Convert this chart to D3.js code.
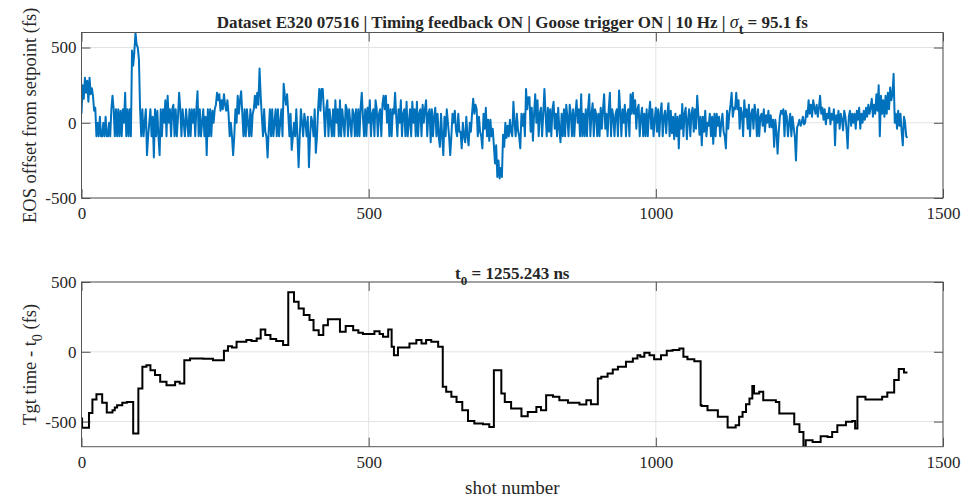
<!DOCTYPE html>
<html>
<head>
<meta charset="utf-8">
<script src="https://cdn.jsdelivr.net/npm/d3@7"></script>
<style>
  html, body { margin: 0; padding: 0; background: #fff; }
  svg { display: block; }
  text { font-family: "Liberation Serif", "Times New Roman", serif; fill: #262626; }
</style>
</head>
<body>
<svg id="chart" width="973" height="498"></svg>
<script>
// ---------------- DATA ----------------
// Top panel: EOS offset from setpoint (fs), one value every 2 shots, starting at shot 0
const eosStep = 2;
const eosOffset = [
  60, 250, 160, 300, 200, 280, 140, 300, 190, 230,
  180, 80, 100, -90, 0, -90, 40, -90, -90, 0,
  -90, 40, -90, -90, 0, -90, 90, 180, 90, -90,
  90, -90, 90, -90, 80, -90, 90, 0, 200, -90,
  90, -90, 90, -90, 480, 380, 470, 600, 520, 500,
  420, 90, -90, 90, -90, 0, 90, -215, -90, 0,
  90, -90, 40, -230, 90, -90, 80, -90, -215, 90,
  -90, 90, 0, 150, -90, 180, 0, 90, -90, 90,
  120, -90, 90, -90, 40, 200, 90, -90, 90, 0,
  -90, 90, 0, -90, 90, -90, 90, 0, 90, -90,
  90, 210, -90, 90, -90, 0, 90, -90, 40, -215,
  90, -90, 90, -90, 80, 0, 90, 120, 200, 150,
  190, 80, 150, 90, 190, 120, 80, 150, 60, -90,
  0, -90, -215, -90, 90, 0, 180, 60, 150, 210,
  60, -90, 90, -90, 90, 0, -90, 90, -90, 60,
  90, 180, 100, 200, 120, 360, 180, 40, -90, 90,
  -60, -90, -230, -50, 90, -90, 90, -90, 0, 90,
  -90, 90, -90, 0, 90, -90, 260, 180, 120, 190,
  60, -90, 60, -180, -90, 0, -90, 90, -90, -295,
  -90, 90, 0, -90, 60, 0, -90, 40, -295, -90,
  40, 0, -90, 90, -200, -90, 90, 225, 80, 225,
  225, 80, -90, 90, 150, -90, 90, 0, -90, 90,
  -90, 150, 0, 90, -90, 150, -90, 90, 0, -90,
  120, 90, -90, 90, 0, -90, 90, 60, -90, 90,
  -90, 90, -90, 100, 200, 40, -90, 90, -90, 100,
  0, 150, -90, 60, 90, -90, 150, 90, -90, 60,
  90, -90, 120, 180, 90, 180, 0, 120, -90, 90,
  -90, 90, 60, 200, 40, -90, 90, 0, 150, -90,
  60, 90, -90, 140, -90, 0, 90, -90, 140, 0,
  90, -90, 140, -90, 60, 90, -90, 120, 0, 90,
  150, -90, 60, 90, -130, 90, -90, 40, 100, -90,
  60, -90, -160, 60, -90, -215, 40, -90, 90, 0,
  -90, -215, -90, 60, 0, 80, -50, -90, 60, -60,
  -60, -170, 0, -90, -130, 40, -90, -150, 0, -60,
  60, 160, 60, 120, 90, -90, 40, -60, -90, -170,
  60, -40, 100, -90, 20, -120, 20, -90, -40, -150,
  -270, -150, -360, -250, -370, -300, -360, -80, -160, 0,
  -100, -20, -90, 20, -60, -90, 140, 0, -90, 60,
  -50, -90, -170, 60, -20, 60, -90, 225, 90, 170,
  170, -60, 100, -120, 60, 190, 0, 150, -90, 60,
  100, -90, 60, 225, 60, -90, 100, -60, 90, -90,
  90, 140, -40, 60, -90, 100, -40, -130, 60, -90,
  90, -90, 120, 40, -90, 120, 60, -90, 90, -90,
  60, 150, 0, 90, -90, 190, -90, 60, -90, 90,
  -90, 90, 190, -90, 60, 130, -90, 90, 60, -90,
  60, -90, 100, -40, 90, 190, -40, 60, -90, 90,
  200, -90, 90, 40, -90, 60, 90, -90, 215, 80,
  -90, 90, 0, 120, -90, 60, 90, -90, 190, 60,
  200, 60, 150, -40, 90, 120, -90, 40, 100, -90,
  60, -90, 90, -90, 60, 140, -40, 90, -90, 20,
  100, -60, 90, -90, 60, 130, -90, 40, 80, -70,
  60, 130, -90, 80, -70, 40, -110, 60, -90, 40,
  -170, 50, -40, 125, -90, 60, 100, -110, 20, 90,
  -90, 60, 100, -60, 90, -40, 180, 60, -80, 40,
  -150, 40, -60, 80, -90, 0, -20, 60, -90, 40,
  -140, 60, -90, 60, -20, 40, -90, 0, 60, -60,
  -90, -170, 80, -40, 60, 120, 200, 40, 100, 90,
  200, 90, 150, -40, 100, 60, -90, 150, 40, 90,
  -40, 120, -90, 60, 90, -40, 120, 60, -90, 90,
  -90, 40, 60, -20, 90, -60, 50, 0, 80, -30,
  50, -30, 20, -160, 20, -60, -205, -60, 40, 80,
  60, 90, -90, 80, 40, -90, 0, 60, -90, 40,
  -30, -90, -250, -30, -10, 20, -20, 0, 40, -10,
  0, 80, 40, 150, 60, 120, 40, 150, 100, 60,
  120, 40, 100, 180, 60, 100, 20, 90, -10, 60,
  30, 100, -10, 60, 20, 90, -150, 50, 0, 80,
  -40, 60, 20, -50, 80, 40, -40, -170, 40, 80,
  -20, 60, 0, 60, -40, 80, 20, 100, -40, 60,
  0, 80, 20, 100, 40, 120, 60, 100, 160, 40,
  120, 60, 190, 80, 250, -90, 180, 60, 150, 40,
  180, 60, 200, 90, 235, 150, 190, 325, 0, 60,
  -40, 80, -20, 60, -60, -150, 40, 0, -90, -100
];

// Bottom panel: target time - t0 (fs), stepwise; shot where each level starts
const tgtShot = [
  0, 1, 13, 19, 26, 36, 44, 54, 58, 62, 71, 79, 90, 99, 106, 113, 120, 128, 137, 148,
  163, 171, 179, 189, 212, 229, 248, 255, 262, 270, 287, 296, 305, 312, 320, 329, 339, 351, 360, 370,
  378, 387, 397, 404, 413, 421, 429, 450, 460, 473, 482, 490, 510, 519, 525, 534, 540, 544, 551, 571,
  583, 592, 600, 609, 621, 629, 635, 644, 653, 663, 673, 684, 699, 710, 718, 731, 737, 748, 766, 777,
  792, 800, 809, 821, 832, 847, 867, 879, 887, 899, 905, 916, 925, 934, 948, 960, 968, 973, 980, 989,
  997, 1009, 1019, 1029, 1041, 1048, 1055, 1067, 1078, 1080, 1090, 1108, 1125, 1139, 1145, 1151, 1157, 1163, 1168, 1171,
  1180, 1187, 1209, 1215, 1241, 1250, 1257, 1261, 1273, 1287, 1299, 1307, 1316, 1331, 1342, 1347, 1351, 1365, 1394, 1403,
  1415, 1423, 1432, 1438
];
const tgtTime = [
  -478, -545, -438, -342, -304, -366, -435, -418, -400, -383, -366, -360, -586, -263, -108, -96, -132, -167, -215, -239,
  -215, -227, -60, -48, -50, -60, 7, 40, 31, 72, 84, 77, 96, 160, 120, 91, 77, 48, 426, 359,
  311, 263, 227, 155, 120, 191, 234, 144, 184, 155, 136, 127, 148, 127, 108, 160, 36, -24, 31, 60,
  84, 60, 84, 72, 36, -251, -287, -323, -359, -419, -495, -514, -519, -538, -132, -299, -359, -407, -462, -431,
  -395, -419, -311, -323, -347, -366, -378, -347, -376, -191, -179, -155, -127, -108, -72, -48, -24, -36, -7, -24,
  -53, -24, 7, 12, 24, -36, -53, -67, -383, -388, -419, -466, -543, -526, -466, -431, -376, -335, -246, -299,
  -287, -347, -359, -443, -519, -574, -682, -634, -646, -605, -610, -574, -526, -502, -495, -550, -323, -342, -323, -292,
  -203, -124, -148, -148
];

const xTicks = [0, 500, 1000, 1500];
const topYTicks = [-500, 0, 500];
const botYTicks = [-500, 0, 500];
const topTitle = "Dataset E320 07516 | Timing feedback ON | Goose trigger ON | 10 Hz | ";
const sigmaValue = " = 95.1 fs";
const t0Label = " = 1255.243 ns";

// ---------------- LAYOUT ----------------
const svg = d3.select("#chart");
svg.append("rect").attr("width", 973).attr("height", 498).attr("fill", "#fff");

const L = 81.5, R = 943;
const topBox = { top: 32.5, bottom: 198 };
const botBox = { top: 282, bottom: 446.7 };
const tickLen = 9;
const axisColor = "#262626";
const gridColor = "#e3e3e3";
const fmt = d => String(d);

const x = d3.scaleLinear().domain([0, 1500]).range([L, R]);
const yTop = d3.scaleLinear().domain([-500, 600]).range([topBox.bottom, topBox.top]);
const yBot = d3.scaleLinear().domain([-680, 500]).range([botBox.bottom, botBox.top]);

function panel(box, y, yTicks, id) {
  const g = svg.append("g");
  g.selectAll(".gx").data(xTicks).enter().append("line")
    .attr("x1", d => x(d)).attr("x2", d => x(d))
    .attr("y1", box.top).attr("y2", box.bottom)
    .attr("stroke", gridColor).attr("stroke-width", 1);
  g.selectAll(".gy").data(yTicks).enter().append("line")
    .attr("x1", L).attr("x2", R)
    .attr("y1", d => y(d)).attr("y2", d => y(d))
    .attr("stroke", gridColor).attr("stroke-width", 1);
  svg.append("clipPath").attr("id", id).append("rect")
    .attr("x", L).attr("y", box.top).attr("width", R - L).attr("height", box.bottom - box.top);
  return g;
}

function frame(box, y, yTicks) {
  const g = svg.append("g");
  const xb = g.append("g").attr("transform", `translate(0,${box.bottom})`)
    .call(d3.axisBottom(x).tickValues(xTicks).tickSize(-tickLen).tickPadding(9).tickFormat(fmt));
  const xt = g.append("g").attr("transform", `translate(0,${box.top})`)
    .call(d3.axisTop(x).tickValues(xTicks).tickSize(-tickLen).tickFormat(""));
  const yl = g.append("g").attr("transform", `translate(${L},0)`)
    .call(d3.axisLeft(y).tickValues(yTicks).tickSize(-tickLen).tickPadding(5).tickFormat(fmt));
  const yr = g.append("g").attr("transform", `translate(${R},0)`)
    .call(d3.axisRight(y).tickValues(yTicks).tickSize(-tickLen).tickFormat(""));
  [xb, xt, yl, yr].forEach(a => {
    a.select(".domain").remove();
    a.selectAll("line").attr("stroke", axisColor).attr("stroke-width", 0.8);
    a.selectAll("text").style("font-family", '"Liberation Serif", serif').style("font-size", "17px").attr("fill", axisColor);
  });
  g.append("rect").attr("x", L).attr("y", box.top).attr("width", R - L).attr("height", box.bottom - box.top)
    .attr("fill", "none").attr("stroke", "#555").attr("stroke-width", 1);
}

// ---------------- TOP PANEL ----------------
panel(topBox, yTop, topYTicks, "clipTop");
const eosPts = eosOffset.map((v, i) => [i * eosStep, v]);
svg.append("path").datum(eosPts)
  .attr("clip-path", "url(#clipTop)")
  .attr("fill", "none").attr("stroke", "#0072BD").attr("stroke-width", 2).attr("stroke-linejoin", "round")
  .attr("d", d3.line().x(d => x(d[0])).y(d => yTop(d[1])));
frame(topBox, yTop, topYTicks);

// ---------------- BOTTOM PANEL ----------------
panel(botBox, yBot, botYTicks, "clipBot");
const tgtPts = tgtShot.map((s, i) => [s, tgtTime[i]]);
svg.append("path").datum(tgtPts)
  .attr("clip-path", "url(#clipBot)")
  .attr("fill", "none").attr("stroke", "#000").attr("stroke-width", 2)
  .attr("d", d3.line().curve(d3.curveStepAfter).x(d => x(d[0])).y(d => yBot(d[1])));
frame(botBox, yBot, botYTicks);

// ---------------- TEXT ----------------
const cx = (L + R) / 2;
const t1 = svg.append("text").attr("x", cx).attr("y", 28).attr("text-anchor", "middle")
  .style("font-size", "17px").style("font-weight", "bold").attr("fill", "#000");
t1.append("tspan").text(topTitle);
t1.append("tspan").text("σ").style("font-style", "italic").style("font-weight", "normal").style("font-size", "18px");
t1.append("tspan").text("t").attr("dy", 6).style("font-size", "14px");
t1.append("tspan").text(sigmaValue).attr("dy", -6);

const t2 = svg.append("text").attr("x", cx).attr("y", 279).attr("text-anchor", "middle")
  .style("font-size", "17px").style("font-weight", "bold").attr("fill", "#000");
t2.append("tspan").text("t");
t2.append("tspan").text("0").attr("dy", 6).style("font-size", "13px");
t2.append("tspan").text(t0Label).attr("dy", -6);

svg.append("text").attr("transform", `translate(36,${(topBox.top + topBox.bottom) / 2}) rotate(-90)`)
  .attr("text-anchor", "middle").style("font-size", "18.5px").text("EOS offset from setpoint (fs)");

const yl2 = svg.append("text").attr("transform", `translate(36,${(botBox.top + botBox.bottom) / 2}) rotate(-90)`)
  .attr("text-anchor", "middle").style("font-size", "18.5px");
yl2.append("tspan").text("Tgt time - t");
yl2.append("tspan").text("0").attr("dy", 6).style("font-size", "14px");
yl2.append("tspan").text(" (fs)").attr("dy", -6);

svg.append("text").attr("x", cx).attr("y", 494).attr("text-anchor", "middle")
  .style("font-size", "19px").text("shot number");
</script>
</body>
</html>
